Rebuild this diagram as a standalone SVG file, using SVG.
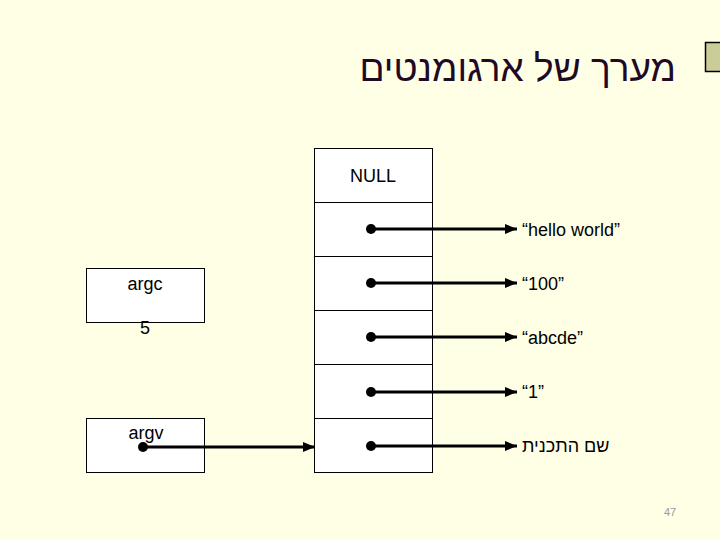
<svg xmlns="http://www.w3.org/2000/svg" width="720" height="540" viewBox="0 0 720 540">
<defs>
<marker id="ah" markerWidth="12" markerHeight="10" refX="12" refY="5" orient="auto" markerUnits="userSpaceOnUse">
<path d="M0,0 L12,5 L0,10 Z" fill="#000"/>
</marker>
<style>
.box{fill:#fff;stroke:#000;stroke-width:1}
.t{font-family:"Liberation Sans",Arial,sans-serif;font-size:18px;fill:#000}
.c{stroke:#000;stroke-width:2.8;fill:none}
.dot{fill:#000}
</style>
</defs>
<rect width="720" height="540" fill="#FFFFE5"/>
<g id="title">
<rect x="705.5" y="42.5" width="20" height="29" fill="#CCCC99" stroke="#000" stroke-width="1.5"/>
<text x="676" y="81" text-anchor="start" direction="rtl" font-family="'Liberation Sans',Arial,sans-serif" font-size="37" fill="#1F0A26">מערך של ארגומנטים</text>
</g>
<g id="array">
<rect class="box" x="314.5" y="148.5" width="118" height="54"/>
<rect class="box" x="314.5" y="202.5" width="118" height="54"/>
<rect class="box" x="314.5" y="256.5" width="118" height="54"/>
<rect class="box" x="314.5" y="310.5" width="118" height="54"/>
<rect class="box" x="314.5" y="364.5" width="118" height="54"/>
<rect class="box" x="314.5" y="418.5" width="118" height="54"/>
<text class="t" x="373" y="182" text-anchor="middle">NULL</text>
</g>
<g id="argc">
<rect class="box" x="86.5" y="268.5" width="118" height="54"/>
<text class="t" x="145" y="290" text-anchor="middle">argc</text>
<text class="t" x="145" y="334" text-anchor="middle">5</text>
</g>
<g id="argv">
<rect class="box" x="86.5" y="418.5" width="118" height="54"/>
<text class="t" x="146" y="439" text-anchor="middle">argv</text>
</g>
<g id="labels">
<text class="t" x="522" y="236">“hello world”</text>
<text class="t" x="522" y="290">“100”</text>
<text class="t" x="522" y="344">“abcde”</text>
<text class="t" x="522" y="398">“1”</text>
<text class="t" x="522" y="452" direction="rtl" unicode-bidi="embed" text-anchor="end">שם התכנית</text>
</g>
<g id="connectors">
<circle class="dot" cx="371" cy="229" r="5"/>
<line class="c" x1="371" y1="229" x2="517" y2="229" marker-end="url(#ah)"/>
<circle class="dot" cx="371" cy="283" r="5"/>
<line class="c" x1="371" y1="283" x2="517" y2="283" marker-end="url(#ah)"/>
<circle class="dot" cx="371" cy="337" r="5"/>
<line class="c" x1="371" y1="337" x2="517" y2="337" marker-end="url(#ah)"/>
<circle class="dot" cx="371" cy="392" r="5"/>
<line class="c" x1="371" y1="392" x2="517" y2="392" marker-end="url(#ah)"/>
<circle class="dot" cx="371" cy="446" r="5"/>
<line class="c" x1="371" y1="446" x2="517" y2="446" marker-end="url(#ah)"/>
<circle class="dot" cx="143" cy="447" r="5"/>
<line class="c" x1="143" y1="447" x2="315" y2="447" marker-end="url(#ah)"/>
</g>
<text x="670" y="516" text-anchor="middle" font-family="'Liberation Sans',Arial,sans-serif" font-size="11" fill="#999">47</text>
</svg>
